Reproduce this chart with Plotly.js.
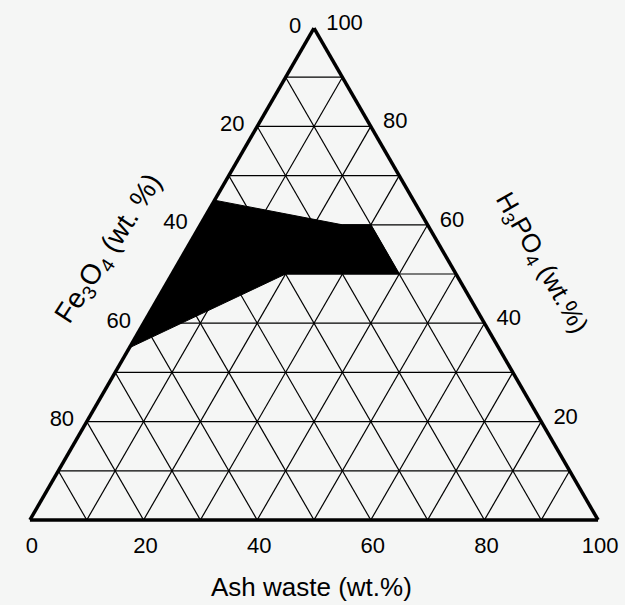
<!DOCTYPE html>
<html>
<head>
<meta charset="utf-8">
<script src="https://cdn.plot.ly/plotly-3.0.1.min.js"></script>
<style>html,body{margin:0;padding:0;background:#f5f6f5;}</style>
</head>
<body>
<div id="chart" style="width:625px;height:605px;"></div>
<script>
// Grid / tick positions (wt.%)
const tickVals = [0, 10, 20, 30, 40, 50, 60, 70, 80, 90, 100];
// Left edge labels (Fe3O4), placed at H3PO4 (a-axis) tick positions
const leftLabels = ["", "", "80", "", "60", "", "40", "", "20", "", "0"];
// Bottom edge labels (Ash waste), placed at Fe3O4 (b-axis) tick positions
const bottomLabels = ["100", "", "80", "", "60", "", "40", "", "20", "", "0"];
// Right edge labels (H3PO4), placed at Ash (c-axis) tick positions
const rightLabels = ["100", "", "80", "", "60", "", "40", "", "20", "", ""];

// Black composition region (wt.%)
const regionH3PO4 = [65, 60, 60, 50, 50, 35];
const regionFe3O4 = [35, 15, 10, 10, 30, 65];
const regionAsh   = [0, 25, 30, 40, 20, 0];

const bg = '#f5f6f5';
const NB = '\u00a0';
const tickFont = {family: 'Liberation Sans, Arial, sans-serif', size: 22, color: '#000'};
const titleFont = {family: 'Liberation Sans, Arial, sans-serif', size: 26, color: '#000'};

function axis(labels, len) {
  return {
    title: {text: ''},
    tickmode: 'array',
    tickvals: tickVals,
    ticktext: labels,
    ticks: 'outside',
    ticklen: len,
    tickcolor: 'rgba(0,0,0,0)',
    tickfont: tickFont,
    showline: true,
    linecolor: '#000',
    linewidth: 3.5,
    showgrid: true,
    gridcolor: '#000',
    gridwidth: 1.2,
    min: 0
  };
}

const traces = [{
  type: 'scatterternary',
  mode: 'lines',
  a: regionH3PO4.concat([regionH3PO4[0]]),
  b: regionFe3O4.concat([regionFe3O4[0]]),
  c: regionAsh.concat([regionAsh[0]]),
  fill: 'toself',
  fillcolor: '#000',
  line: {color: '#000', width: 1},
  hoverinfo: 'skip',
  showlegend: false
}];

const layout = {
  width: 625,
  height: 605,
  margin: {l: 0, r: 0, t: 0, b: 0},
  paper_bgcolor: bg,
  plot_bgcolor: bg,
  showlegend: false,
  ternary: {
    sum: 100,
    bgcolor: bg,
    domain: {x: [0.0048, 1.0], y: [0.1405, 0.9537]},
    aaxis: axis(leftLabels.map(s => s ? s + NB : s), 2),
    baxis: axis(bottomLabels, 4),
    caxis: axis(rightLabels.map(s => s ? NB + s : s), 3)
  },
  annotations: [
    {text: 'Ash waste (wt.%)', xref: 'paper', yref: 'paper', x: 0.4976, y: 0.0298,
     showarrow: false, font: titleFont, xanchor: 'center', yanchor: 'middle'},
    {text: 'Fe<sub>3</sub>O<sub>4</sub> (wt. %)', xref: 'paper', yref: 'paper', x: 0.175, y: 0.588,
     showarrow: false, font: {family: titleFont.family, size: 28, color: '#000'}, textangle: -57, xanchor: 'center', yanchor: 'middle'},
    {text: 'H<sub>3</sub>PO<sub>4</sub> (wt.%)', xref: 'paper', yref: 'paper', x: 0.866, y: 0.564,
     showarrow: false, font: titleFont, textangle: 60, xanchor: 'center', yanchor: 'middle'}
  ]
};

Plotly.newPlot('chart', traces, layout, {displayModeBar: false, staticPlot: true});
</script>
</body>
</html>
